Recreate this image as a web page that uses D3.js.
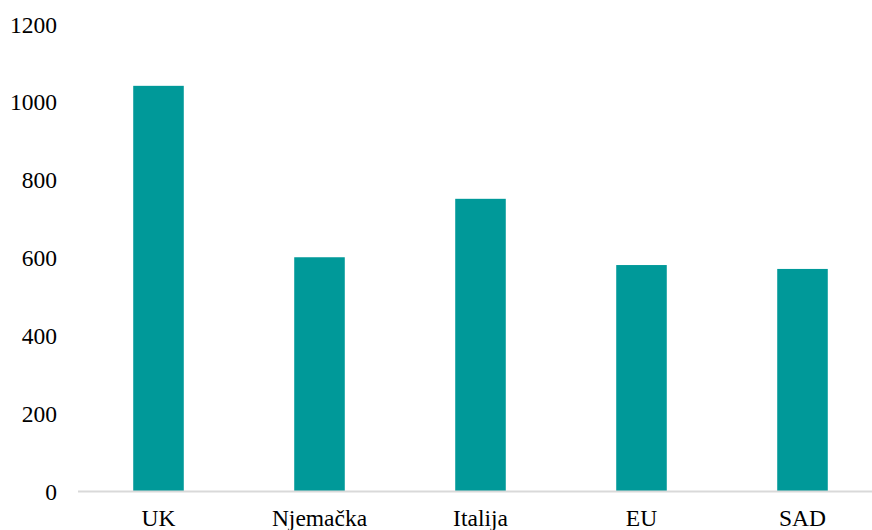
<!DOCTYPE html>
<html>
<head>
<meta charset="utf-8">
<script src="https://cdn.jsdelivr.net/npm/d3@7"></script>
<style>
  html, body { margin: 0; padding: 0; background: #fff; }
</style>
</head>
<body>
<svg id="chart" width="872" height="530"></svg>
<script>
// Countries and their values
const categories = ["UK", "Njemačka", "Italija", "EU", "SAD"];
const values = [1040, 600, 750, 580, 570];
const yTicks = [0, 200, 400, 600, 800, 1000, 1200];

const FONT = "Liberation Serif";
const fontSize = 23.5;
const svg = d3.select("#chart");

const x = d3.scaleBand()
  .domain(categories)
  .range([78, 883])
  .paddingInner(0.686)
  .paddingOuter(0.343);

const y = d3.scaleLinear()
  .domain([0, 1200])
  .range([491, 23.5]);

// Value axis labels (no axis line, no ticks)
const yAxis = d3.axisLeft(y)
  .tickValues(yTicks)
  .tickSize(0)
  .tickPadding(0)
  .tickFormat(d3.format("d"));

const gy = svg.append("g")
  .attr("transform", "translate(57,1)")
  .call(yAxis)
  .attr("font-family", FONT)
  .attr("font-size", fontSize);
gy.select(".domain").remove();
gy.selectAll("text").attr("fill", "#000");

// Bars
svg.append("g")
  .selectAll("rect")
  .data(categories)
  .join("rect")
  .attr("x", d => x(d))
  .attr("width", x.bandwidth())
  .attr("y", (d, i) => y(values[i]))
  .attr("height", (d, i) => y(0) - y(values[i]))
  .attr("fill", "#009999");

// Category axis with light baseline
const xAxis = d3.axisBottom(x).tickSize(0).tickPadding(0);
const gx = svg.append("g")
  .attr("transform", `translate(0,${y(0)})`)
  .call(xAxis)
  .attr("font-family", FONT)
  .attr("font-size", fontSize);
gx.select(".domain")
  .attr("d", "M78,0.5H872")
  .attr("stroke", "#d9d9d9")
  .attr("stroke-width", 2);
gx.selectAll("text")
  .attr("fill", "#000")
  .attr("dy", null)
  .attr("y", 35);
</script>
</body>
</html>
